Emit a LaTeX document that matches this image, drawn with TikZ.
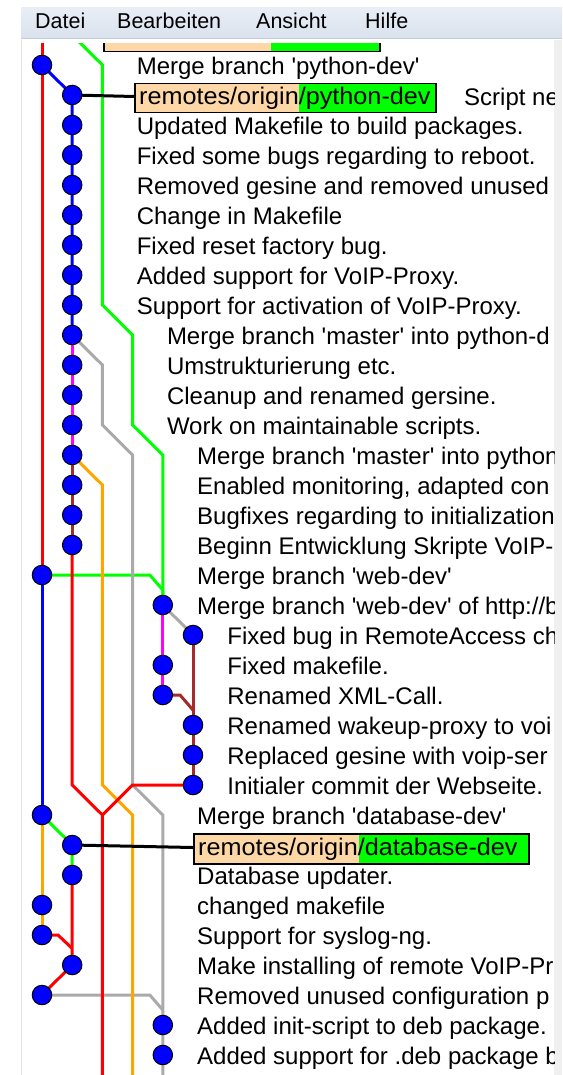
\documentclass[tikz,border=0pt]{standalone}
\usepackage{fontspec}
\setmainfont{Liberation Sans}
\usetikzlibrary{calc}

\definecolor{gkred}{HTML}{FF0000}
\definecolor{gkblue}{HTML}{0000FF}
\definecolor{gkgreen}{HTML}{00FF00}
\definecolor{gkgray}{HTML}{AAAAAA}
\definecolor{gkmagenta}{HTML}{FF00FF}
\definecolor{gkorange}{HTML}{FFA500}
\definecolor{gkbrown}{HTML}{A52A2A}
\definecolor{gktan}{HTML}{FDD7A6}
\definecolor{menutop}{HTML}{E9EEF6}
\definecolor{menubot}{HTML}{DAE2EE}
\definecolor{menuline}{HTML}{C3CEDD}
\definecolor{frame}{HTML}{E2E2E2}
\definecolor{sidebar}{HTML}{F0F0F0}

% grid position of a lane: column, row
\newcommand\gk[2]{({42+30.2*(#1)},{65+30*(#2)})}
% straight apostrophe
\newcommand\sq{\textquotesingle}
% label text, a little wider than the message font
\newcommand\reftext[1]{\scalebox{1.05}[1]{#1}}

\begin{document}
\begin{tikzpicture}[x=1pt,y=-1pt,
  lane/.style={line width=3pt},
  reflink/.style={line width=3pt, black},
  dot/.style={circle, fill=gkblue, draw=black, line width=1pt, minimum size=19.5pt, inner sep=0pt},
  refbox/.style={draw=black, line width=1.5pt, fill=gktan, inner sep=0pt, minimum height=29pt, anchor=north west},
  msg/.style={anchor=base west, inner sep=0pt, font=\fontsize{24}{24}\selectfont},
  menuitem/.style={anchor=base west, inner sep=0pt, font=\fontsize{21.5}{22}\selectfont}]
\useasboundingbox (0,0) rectangle (562,1075);
\fill[white] (0,0) rectangle (562,1075);

% menu bar
\shade[top color=menutop, bottom color=menubot] (21,8) rectangle (562,38);
\draw[menuline, line width=1pt] (21,38.5) -- (562,38.5);
\node[menuitem] (mDatei) at (35,29) {Datei};
\node[menuitem] (mEdit) at (117,29) {Bearbeiten};
\node[menuitem] (mView) at (256,29) {Ansicht};
\node[menuitem] (mHelp) at (365,29) {Hilfe};

% panel frame
\fill[sidebar] (554,40) rectangle (562,1075);
\draw[frame, line width=1.5pt] (21.5,40) -- (21.5,1075);

\begin{scope}
\clip (22,44) rectangle (554,1075);

% commit positions (row/column)
\foreach \r/\c in {0/0,1/1,2/1,3/1,4/1,5/1,6/1,7/1,8/1,9/1,10/1,11/1,12/1,
  13/1,14/1,15/1,16/1,17/0,18/4,19/5,20/4,21/4,22/5,23/5,24/5,25/0,26/1,
  27/1,28/0,29/0,30/1,31/0,32/4,33/4}
  \coordinate (p\r) at ({42+30.2*\c},{65+30*\r});

% branch lanes
\draw[lane, gkred] \gk{0}{-2} -- (p0) -- (p17);
\draw[lane, gkblue] (p0) -- (p1) -- (p9);
\draw[lane, gkgreen] \gk{1}{-1} -- \gk{2}{0} -- \gk{2}{8} -- \gk{3}{9}
  -- \gk{3}{12} -- \gk{4}{13} -- (p18);
\draw[lane, gkgreen] (p17) -- \gk{3.57}{17} -- \gk{4}{17.5} -- (p18);
\draw[lane, gkgray] (p9) -- \gk{2}{10} -- \gk{2}{12} -- \gk{3}{13} -- \gk{3}{24}
  -- \gk{4}{25} -- (p32) -- (p33) -- \gk{4}{35};
\draw[lane, gkgray] (p31) -- \gk{3.57}{31} -- \gk{4}{31.5};
\draw[lane, gkgray] (p18) -- (p19);
\draw[lane, gkmagenta] (p9) -- (p13);
\draw[lane, gkbrown] (p13) -- (p16);
\draw[lane, gkorange] (p13) -- \gk{2}{14} -- \gk{2}{24} -- \gk{3}{25} -- \gk{3}{35};
\draw[lane, gkred] (p16) -- \gk{1}{24} -- \gk{2}{25} -- \gk{2}{35};
\draw[lane, gkred] (p24) -- \gk{3}{24} -- \gk{2}{25};
\draw[lane, gkmagenta] (p18) -- (p20) -- (p21);
\draw[lane, gkbrown] (p19) -- (p22) -- (p23) -- (p24);
\draw[lane, gkbrown] (p21) -- \gk{4.57}{21} -- \gk{5}{21.5};
\draw[lane, gkblue] (p17) -- (p25);
\draw[lane, gkorange] (p25) -- (p28) -- (p29);
\draw[lane, gkgreen] (p25) -- (p26) -- (p27);
\draw[lane, gkred] (p27) -- (p30) -- (p31);
\draw[lane, gkred] (p29) -- \gk{0.53}{29} -- \gk{1}{29.45};

% remote branch labels
\node[refbox, minimum width=276pt, path picture={\fill[gkgreen]
  ([xshift=167pt]path picture bounding box.north west) rectangle
  (path picture bounding box.south east);}] (bWeb) at (103,22) {};

\draw[reflink] (p1) -- (134,96.5) coordinate (bPyIn);
\node[refbox, minimum width=301pt, path picture={\fill[gkgreen]
  ([xshift=164pt]path picture bounding box.north west) rectangle
  (path picture bounding box.south east);}] (bPy) at (134,83) {};
\node[msg] (tPy) at (139,104.5) {\reftext{remotes/origin/python-dev}};

\draw[reflink] (p26) -- (193,847.5) coordinate (bDbIn);
\node[refbox, minimum width=335pt, minimum height=30pt, path picture={\fill[gkgreen]
  ([xshift=165pt]path picture bounding box.north west) rectangle
  (path picture bounding box.south east);}] (bDb) at (193,833) {};
\node[msg] (tDb) at (198,855) {\reftext{remotes/origin/database-dev}};

% commits
\foreach \r in {0,...,33}
  \node[dot] (n\r) at (p\r) {};

% commit messages
\foreach \r/\c/\t in {
  0/3/{Merge branch \sq python-dev\sq},
  2/3/{Updated Makefile to build packages.},
  3/3/{Fixed some bugs regarding to reboot.},
  4/3/{Removed gesine and removed unused},
  5/3/{Change in Makefile},
  6/3/{Fixed reset factory bug.},
  7/3/{Added support for VoIP-Proxy.},
  8/3/{Support for activation of VoIP-Proxy.},
  9/4/{Merge branch \sq master\sq{} into python-d},
  10/4/{Umstrukturierung etc.},
  11/4/{Cleanup and renamed gersine.},
  12/4/{Work on maintainable scripts.},
  13/5/{Merge branch \sq master\sq{} into python},
  14/5/{Enabled monitoring, adapted con},
  15/5/{Bugfixes regarding to initialization},
  16/5/{Beginn Entwicklung Skripte VoIP-},
  17/5/{Merge branch \sq web-dev\sq},
  18/5/{Merge branch \sq web-dev\sq{} of http://b},
  19/6/{Fixed bug in RemoteAccess ch},
  20/6/{Fixed makefile.},
  21/6/{Renamed XML-Call.},
  22/6/{Renamed wakeup-proxy to voi},
  23/6/{Replaced gesine with voip-ser},
  24/6/{Initialer commit der Webseite.},
  25/5/{Merge branch \sq database-dev\sq},
  27/5/{Database updater.},
  28/5/{changed makefile},
  29/5/{Support for syslog-ng.},
  30/5/{Make installing of remote VoIP-Pr},
  31/5/{Removed unused configuration p},
  32/5/{Added init-script to deb package.},
  33/5/{Added support for .deb package b}}
  \node[msg] (m\r) at ({46+30.2*\c},{74.5+30*\r}) {\t};
\node[msg] (m1) at (464,106) {Script ne};
\end{scope}
\end{tikzpicture}
\end{document}
